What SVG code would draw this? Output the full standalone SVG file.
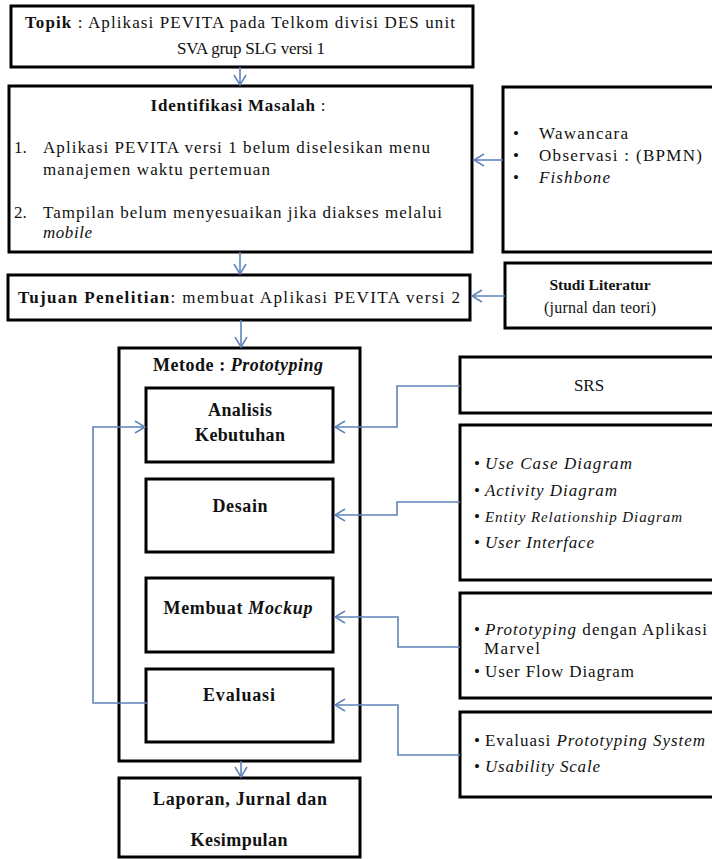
<svg xmlns="http://www.w3.org/2000/svg" width="712" height="859" viewBox="0 0 712 859" font-family="'Liberation Serif', 'Times New Roman', 'DejaVu Serif', serif">
<defs>
<marker id="ah" markerUnits="userSpaceOnUse" markerWidth="14" markerHeight="14" viewBox="0 0 14 14" refX="12" refY="7" orient="auto">
<path d="M2,1 L12,7 L2,13" fill="none" stroke="#5f84bb" stroke-width="1.5"/>
</marker>
<style>
.box{fill:#fff;stroke:#000;stroke-width:3}
.c{fill:none;stroke:#5f84bb;stroke-width:1.6}
text{font-family:'Liberation Serif','Times New Roman','DejaVu Serif',serif;font-size:17px;fill:#111}
.b{font-weight:bold;font-size:18px}
.i{font-style:italic}
.m{text-anchor:middle}
</style>
</defs>
<rect width="712" height="859" fill="#fff"/>

<g id="topik">
<rect class="box" x="11" y="6" width="462" height="61"/>
<text x="240" y="28" class="m" textLength="430" lengthAdjust="spacing"><tspan font-weight="bold">Topik</tspan> : Aplikasi PEVITA pada Telkom divisi DES unit</text>
<text x="251" y="54" class="m" textLength="148" lengthAdjust="spacing">SVA grup SLG versi 1</text>
</g>

<g id="identifikasi">
<rect class="box" x="9" y="86" width="463" height="166"/>
<text x="238" y="111" class="m" textLength="175" lengthAdjust="spacing"><tspan font-weight="bold">Identifikasi Masalah</tspan> :</text>
<text x="14" y="153">1.</text>
<text x="43" y="153" textLength="387" lengthAdjust="spacing">Aplikasi PEVITA versi 1 belum diselesikan menu</text>
<text x="43" y="175" textLength="227" lengthAdjust="spacing">manajemen waktu pertemuan</text>
<text x="14" y="218">2.</text>
<text x="43" y="218" textLength="399" lengthAdjust="spacing">Tampilan belum menyesuaikan jika diakses melalui</text>
<text x="43" y="238" class="i" textLength="49" lengthAdjust="spacing">mobile</text>
</g>

<g id="teknik">
<rect class="box" x="503" y="87" width="212" height="165"/>
<text x="513" y="139">•</text><text x="539" y="139" textLength="89" lengthAdjust="spacing">Wawancara</text>
<text x="513" y="161">•</text><text x="539" y="161" textLength="163" lengthAdjust="spacing">Observasi : (BPMN)</text>
<text x="513" y="183">•</text><text x="539" y="183" class="i" textLength="71" lengthAdjust="spacing">Fishbone</text>
</g>

<g id="tujuan">
<rect class="box" x="8" y="275" width="462" height="45"/>
<text x="18" y="303" textLength="442" lengthAdjust="spacing"><tspan font-weight="bold">Tujuan  Penelitian</tspan>: membuat Aplikasi PEVITA versi 2</text>
</g>

<g id="studi">
<rect class="box" x="505" y="263" width="210" height="65"/>
<text x="600" y="290" class="m" font-weight="bold" style="font-size:15.5px">Studi Literatur</text>
<text x="600" y="313" class="m" textLength="112" lengthAdjust="spacing" style="font-size:16px">(jurnal dan teori)</text>
</g>

<g id="metode">
<rect class="box" x="119" y="348" width="241" height="413"/>
<text x="153" y="371" class="b" textLength="170" lengthAdjust="spacing">Metode : <tspan class="i">Prototyping</tspan></text>
</g>

<g id="analisis">
<rect class="box" x="146" y="388" width="187" height="74"/>
<text x="240" y="416" class="m b" textLength="64" lengthAdjust="spacing">Analisis</text>
<text x="240" y="441" class="m b" textLength="90" lengthAdjust="spacing">Kebutuhan</text>
</g>

<g id="desain">
<rect class="box" x="146" y="479" width="187" height="73"/>
<text x="240" y="512" class="m b" textLength="55" lengthAdjust="spacing">Desain</text>
</g>

<g id="mockup">
<rect class="box" x="146" y="578" width="187" height="74"/>
<text x="238" y="614" class="m b" textLength="149" lengthAdjust="spacing">Membuat <tspan class="i">Mockup</tspan></text>
</g>

<g id="evaluasi">
<rect class="box" x="146" y="669" width="187" height="73"/>
<text x="239" y="701" class="m b" textLength="72" lengthAdjust="spacing">Evaluasi</text>
</g>

<g id="laporan">
<rect class="box" x="119" y="778" width="241" height="79"/>
<text x="240" y="805" class="m b" textLength="174" lengthAdjust="spacing">Laporan, Jurnal dan</text>
<text x="239" y="846" class="m b" textLength="97" lengthAdjust="spacing">Kesimpulan</text>
</g>

<g id="srs">
<rect class="box" x="460" y="357" width="255" height="56"/>
<text x="589" y="391" class="m">SRS</text>
</g>

<g id="uml">
<rect class="box" x="460" y="425" width="255" height="155"/>
<text x="474" y="469">•</text><text x="485" y="469" class="i" textLength="147" lengthAdjust="spacing">Use Case Diagram</text>
<text x="474" y="496">•</text><text x="485" y="496" class="i" textLength="132" lengthAdjust="spacing">Activity Diagram</text>
<text x="474" y="522">•</text><text x="485" y="522" class="i" style="font-size:15px" textLength="197" lengthAdjust="spacing">Entity Relationship Diagram</text>
<text x="474" y="548">•</text><text x="485" y="548" class="i" textLength="109" lengthAdjust="spacing">User Interface</text>
</g>

<g id="marvel">
<rect class="box" x="460" y="593" width="255" height="105"/>
<text x="474" y="635">•</text><text x="485" y="635" textLength="222" lengthAdjust="spacing"><tspan class="i">Prototyping</tspan> dengan Aplikasi</text>
<text x="484" y="654" textLength="56" lengthAdjust="spacing">Marvel</text>
<text x="474" y="677">•</text><text x="485" y="677" textLength="149" lengthAdjust="spacing">User Flow Diagram</text>
</g>

<g id="evalref">
<rect class="box" x="460" y="712" width="255" height="85"/>
<text x="474" y="746">•</text><text x="485" y="746" textLength="220" lengthAdjust="spacing">Evaluasi <tspan class="i">Prototyping System</tspan></text>
<text x="474" y="772">•</text><text x="485" y="772" class="i" textLength="115" lengthAdjust="spacing">Usability Scale</text>
</g>

<g id="connectors">
<path class="c" marker-end="url(#ah)" d="M240,67 V85"/>
<path class="c" marker-end="url(#ah)" d="M240,252 V274"/>
<path class="c" marker-end="url(#ah)" d="M241,320 V347"/>
<path class="c" marker-end="url(#ah)" d="M241,761 V777"/>
<path class="c" marker-end="url(#ah)" d="M503,160 H474"/>
<path class="c" marker-end="url(#ah)" d="M505,296 H472"/>
<path class="c" marker-end="url(#ah)" d="M460,386 H397 V427 H335"/>
<path class="c" marker-end="url(#ah)" d="M460,502 H397 V515 H335"/>
<path class="c" marker-end="url(#ah)" d="M460,647 H398 V617 H335"/>
<path class="c" marker-end="url(#ah)" d="M460,755 H398 V705 H335"/>
<path class="c" marker-end="url(#ah)" d="M147,703 H93 V427 H145"/>
</g>
</svg>
